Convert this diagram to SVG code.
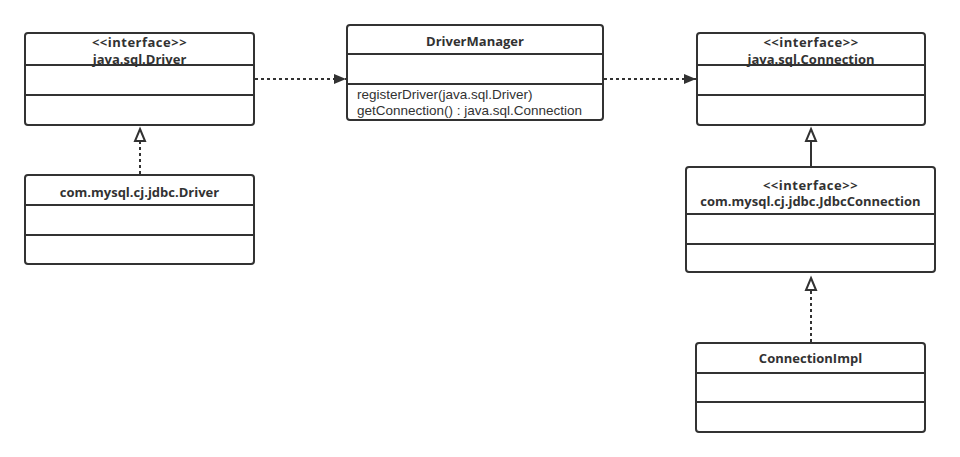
<svg xmlns="http://www.w3.org/2000/svg" width="960" height="457" viewBox="0 0 960 457">
<defs>
<style>
.box{fill:#fff;stroke:#323232;stroke-width:2}
.div{stroke:#323232;stroke-width:2}
.t{font-family:"Open Sans","Noto Sans",sans-serif;font-size:13px;font-weight:bold;fill:#323232;text-anchor:middle}
.m{font-family:"Liberation Sans",Arial,sans-serif;font-size:13.5px;fill:#323232}
.dash{stroke:#323232;stroke-width:2;fill:none;stroke-dasharray:3 3}
.solid{stroke:#323232;stroke-width:2;fill:none}
</style>
<marker id="filled" markerWidth="14" markerHeight="12" refX="13" refY="6" orient="auto" markerUnits="userSpaceOnUse">
<path d="M1,1 L13,6 L1,11 Z" fill="#323232"/>
</marker>
</defs>
<rect width="960" height="457" fill="#fff"/>

<g id="connectors">
<line class="dash" x1="255" y1="79" x2="346" y2="79" marker-end="url(#filled)"/>
<line class="dash" x1="604" y1="79" x2="696" y2="79" marker-end="url(#filled)"/>
<line class="dash" x1="140" y1="174" x2="140" y2="142"/>
<path d="M140,129 L145,141 L135,141 Z" fill="#fff" stroke="#323232" stroke-width="2"/>
<line class="solid" x1="811" y1="166" x2="811" y2="142"/>
<path d="M811,129 L816,141 L806,141 Z" fill="#fff" stroke="#323232" stroke-width="2"/>
<line class="dash" x1="811" y1="342" x2="811" y2="291"/>
<path d="M811,278 L816,290 L806,290 Z" fill="#fff" stroke="#323232" stroke-width="2"/>
</g>

<g id="javaSqlDriver">
<rect class="box" x="25" y="33" width="229" height="92" rx="3"/>
<line class="div" x1="25" y1="65" x2="254" y2="65"/>
<line class="div" x1="25" y1="95" x2="254" y2="95"/>
<text class="t" x="139.5" y="47" letter-spacing="0.5">&lt;&lt;interface&gt;&gt;</text>
<text class="t" x="139.5" y="64">java.sql.Driver</text>
</g>

<g id="driverManager">
<rect class="box" x="347" y="25" width="256" height="95" rx="3"/>
<line class="div" x1="347" y1="54" x2="603" y2="54"/>
<line class="div" x1="347" y1="84" x2="603" y2="84"/>
<text class="t" x="475" y="46">DriverManager</text>
<text class="m" x="357" y="99">registerDriver(java.sql.Driver)</text>
<text class="m" x="357" y="114.5">getConnection() : java.sql.Connection</text>
</g>

<g id="javaSqlConnection">
<rect class="box" x="697" y="33" width="228" height="92" rx="3"/>
<line class="div" x1="697" y1="65" x2="925" y2="65"/>
<line class="div" x1="697" y1="95" x2="925" y2="95"/>
<text class="t" x="811" y="47" letter-spacing="0.5">&lt;&lt;interface&gt;&gt;</text>
<text class="t" x="811" y="64">java.sql.Connection</text>
</g>

<g id="mysqlDriver">
<rect class="box" x="25" y="175" width="229" height="89" rx="3"/>
<line class="div" x1="25" y1="205" x2="254" y2="205"/>
<line class="div" x1="25" y1="235" x2="254" y2="235"/>
<text class="t" x="139.5" y="196.5">com.mysql.cj.jdbc.Driver</text>
</g>

<g id="jdbcConnection">
<rect class="box" x="686" y="167" width="249" height="105" rx="3"/>
<line class="div" x1="686" y1="214" x2="935" y2="214"/>
<line class="div" x1="686" y1="244" x2="935" y2="244"/>
<text class="t" x="810.5" y="189.5" letter-spacing="0.5">&lt;&lt;interface&gt;&gt;</text>
<text class="t" x="810.5" y="206">com.mysql.cj.jdbc.JdbcConnection</text>
</g>

<g id="connectionImpl">
<rect class="box" x="696" y="343" width="229" height="89" rx="3"/>
<line class="div" x1="696" y1="373" x2="925" y2="373"/>
<line class="div" x1="696" y1="402" x2="925" y2="402"/>
<text class="t" x="810.5" y="362.5">ConnectionImpl</text>
</g>
</svg>
